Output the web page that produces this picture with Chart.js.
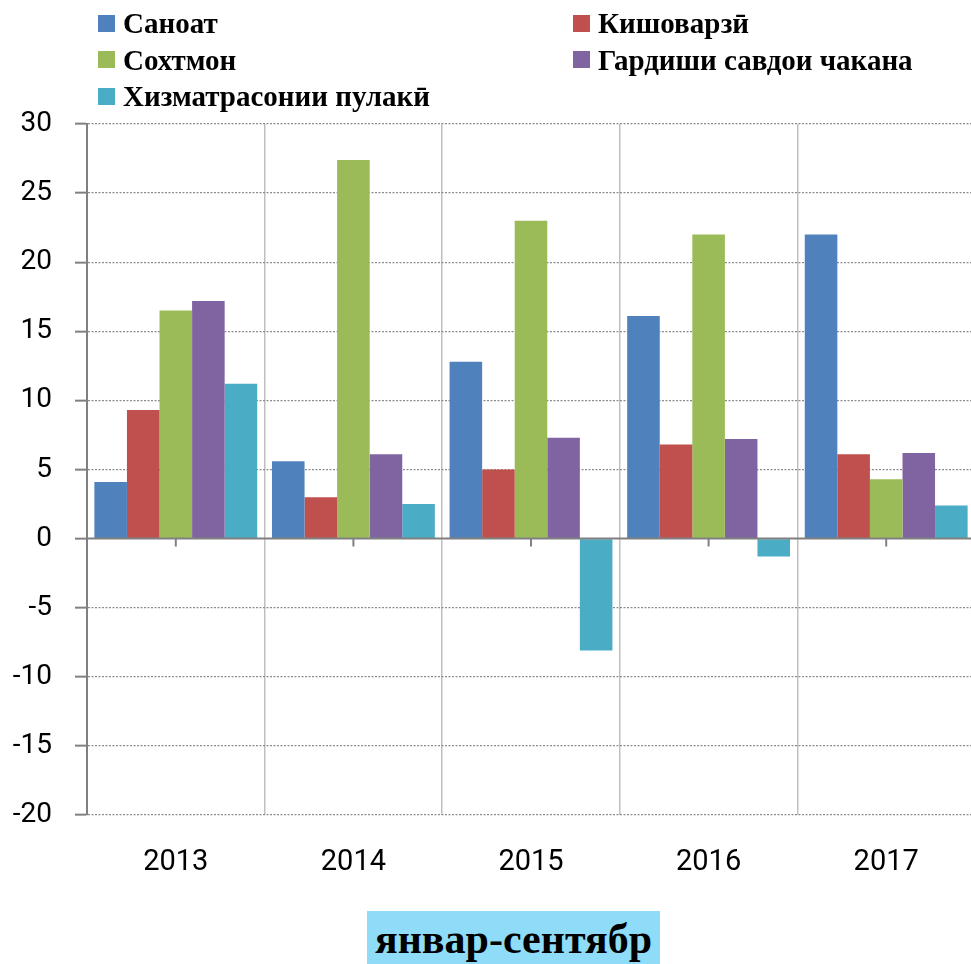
<!DOCTYPE html>
<html>
<head>
<meta charset="utf-8">
<script src="https://cdn.jsdelivr.net/npm/chart.js@4"></script>
<style>
  html, body { margin: 0; padding: 0; background: #fff; overflow: hidden; }
  body { width: 971px; height: 964px; position: relative; }
  #myChart { position: absolute; left: 0; top: 0; }
  #legend {
    position: absolute; left: 98px; top: 5px;
    display: grid; grid-template-columns: 475px auto; grid-auto-rows: 36.5px;
    font-family: "Liberation Serif", serif; font-weight: bold; font-size: 29px; color: #000;
  }
  #legend .item { display: flex; align-items: center; white-space: nowrap; line-height: 36.5px; }
  #legend .box { width: 17px; height: 17px; margin-right: 8px; flex: none; }
  #period {
    position: absolute; left: 367px; top: 911px; width: 293px; height: 60px;
    background: #8edcf7; text-align: center; box-sizing: border-box; padding-top: 7px;
    font-family: "Liberation Serif", serif; font-weight: bold; font-size: 42px; line-height: 42px; color: #000;
  }
</style>
</head>
<body>
<canvas id="myChart" width="980" height="900"></canvas>
<div id="legend"></div>
<div id="period">январ-сентябр</div>
<script>
const years = ['2013', '2014', '2015', '2016', '2017'];

const seriesNames = ['Саноат', 'Кишоварзӣ', 'Сохтмон', 'Гардиши савдои чакана', 'Хизматрасонии пулакӣ'];
const seriesColors = ['#4f81bd', '#c0504d', '#9bbb59', '#8064a2', '#4bacc6'];

const sanoat = [4.1, 5.6, 12.8, 16.1, 22.0];
const kishovarzi = [9.3, 3.0, 5.0, 6.8, 6.1];
const sokhtmon = [16.5, 27.4, 23.0, 22.0, 4.3];
const gardish = [17.2, 6.1, 7.3, 7.2, 6.2];
const khizmat = [11.2, 2.5, -8.1, -1.3, 2.4];

const yMin = -20, yMax = 30, yStep = 5;

const seriesValues = [sanoat, kishovarzi, sokhtmon, gardish, khizmat];

// solid zero line with small ticks under each year
const zeroLine = {
    id: 'zeroLine',
    afterDatasetsDraw(chart) {
        const {ctx, chartArea, scales: {x, y}} = chart;
        const y0 = y.getPixelForValue(0);
        ctx.save();
        ctx.strokeStyle = '#808080';
        ctx.lineWidth = 2;
        ctx.beginPath();
        ctx.moveTo(chartArea.left, y0);
        ctx.lineTo(chartArea.right, y0);
        years.forEach((_, i) => {
            const cx = x.getPixelForValue(i);
            ctx.moveTo(cx, y0);
            ctx.lineTo(cx, y0 + 8);
        });
        ctx.stroke();
        ctx.restore();
    }
};

const chart = new Chart(document.getElementById('myChart'),
{
    type: 'bar',
    data:
    {
        labels: years,
        datasets: seriesValues.map((vals, i) => ({
            label: seriesNames[i],
            data: vals,
            backgroundColor: seriesColors[i],
            borderWidth: 0,
            categoryPercentage: 0.917,
            barPercentage: 1
        }))
    },
    options:
    {
        responsive: false,
        animation: false,
        layout: { padding: { top: 124, right: 5, bottom: 0, left: 0 } },
        scales:
        {
            x:
            {
                grid: { offset: true, drawTicks: false, color: '#c0c0c0', lineWidth: 1.5 },
                border: { display: false },
                ticks: { color: '#000', font: { family: 'Roboto', size: 29 }, padding: 30 },
                afterFit: (s) => { s.height = 85; }
            },
            y:
            {
                min: yMin,
                max: yMax,
                ticks: { stepSize: yStep, color: '#000', font: { family: 'Roboto', size: 28 }, padding: 23 },
                grid:
                {
                    color: (c) => c.tick && c.tick.value === 0 ? 'rgba(0,0,0,0)' : '#8c8c8c',
                    lineWidth: 1.3,
                    tickColor: '#808080',
                    tickLength: 12,
                    tickWidth: 2
                },
                border: { display: true, color: '#808080', width: 2, dash: [2, 1.5] },
                afterFit: (s) => { s.width = 87; }
            }
        },
        plugins:
        {
            legend: { display: false },
            tooltip: { enabled: false }
        }
    },
    plugins: [zeroLine]
});

// two-column legend built from the datasets
const legend = document.getElementById('legend');
chart.data.datasets.forEach((ds) => {
    const item = document.createElement('div');
    item.className = 'item';
    const box = document.createElement('span');
    box.className = 'box';
    box.style.background = ds.backgroundColor;
    item.appendChild(box);
    item.appendChild(document.createTextNode(ds.label));
    legend.appendChild(item);
});
</script>
</body>
</html>
